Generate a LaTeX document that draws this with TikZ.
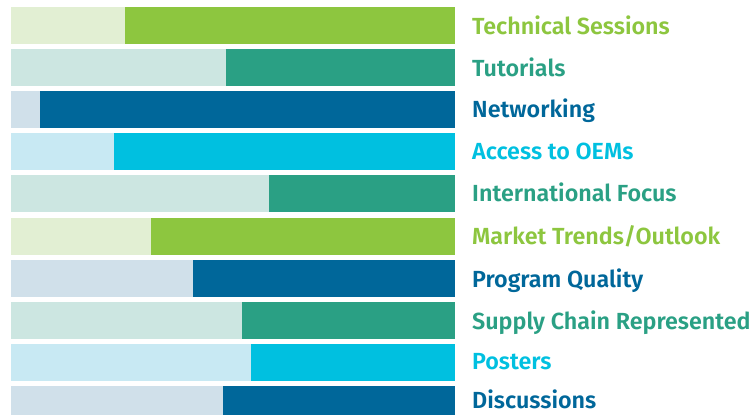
\documentclass[tikz,border=0pt]{standalone}
\usepackage{fontspec}
\setmainfont{Fira Sans}
\newfontfamily\labfont{Fira Sans SemiBold}
\definecolor{grnL}{HTML}{E2EFD3}
\definecolor{grnD}{HTML}{8DC63F}
\definecolor{tealL}{HTML}{CCE6E1}
\definecolor{tealD}{HTML}{2AA084}
\definecolor{blueL}{HTML}{D0E0EA}
\definecolor{blueD}{HTML}{00679A}
\definecolor{cyanL}{HTML}{C8E9F3}
\definecolor{cyanD}{HTML}{00C0E0}
\tikzset{lab/.style={anchor=base west, inner sep=0pt, font=\labfont\fontsize{23.3}{25}\selectfont}}

\begin{document}
\begin{tikzpicture}[x=1pt,y=-1pt]
        \useasboundingbox (0,0) rectangle (752,415);
%        bars: light part, then dark part
        \fill [grnL]  (11,7)   rectangle (125,44);  \fill [grnD]  (125,7)   rectangle (455,44);
        \fill [tealL] (11,49)  rectangle (226,86);  \fill [tealD] (226,49)  rectangle (455,86);
        \fill [blueL] (11,91)  rectangle (40,128);  \fill [blueD] (40,91)   rectangle (455,128);
        \fill [cyanL] (11,133) rectangle (114,170); \fill [cyanD] (114,133) rectangle (455,170);
        \fill [tealL] (11,175) rectangle (269,212); \fill [tealD] (269,175) rectangle (455,212);
        \fill [grnL]  (11,218) rectangle (151,255); \fill [grnD]  (151,218) rectangle (455,255);
        \fill [blueL] (11,260) rectangle (193,297); \fill [blueD] (193,260) rectangle (455,297);
        \fill [tealL] (11,302) rectangle (242,339); \fill [tealD] (242,302) rectangle (455,339);
        \fill [cyanL] (11,344) rectangle (251,381); \fill [cyanD] (251,344) rectangle (455,381);
        \fill [blueL] (11,386) rectangle (223,415); \fill [blueD] (223,386) rectangle (455,415);

        \node [lab, text=grnD]  (tech)   at (472,34)  {Technical Sessions};
        \node [lab, text=tealD] (tut)    at (472,76)  {Tutorials};
        \node [lab, text=blueD] (net)    at (472,117) {Networking};
        \node [lab, text=cyanD] (oem)    at (472,159) {Access to OEMs};
        \node [lab, text=tealD] (intl)   at (472,201) {International Focus};
        \node [lab, text=grnD]  (market) at (472,244) {Market Trends/Outlook};
        \node [lab, text=blueD] (prog)   at (472,287) {Program Quality};
        \node [lab, text=tealD] (supply) at (472,329) {Supply Chain Represented};
        \node [lab, text=cyanD] (post)   at (472,369) {Posters};
        \node [lab, text=blueD] (disc)   at (472,408) {Discussions};
      \end{tikzpicture}
\end{document}
